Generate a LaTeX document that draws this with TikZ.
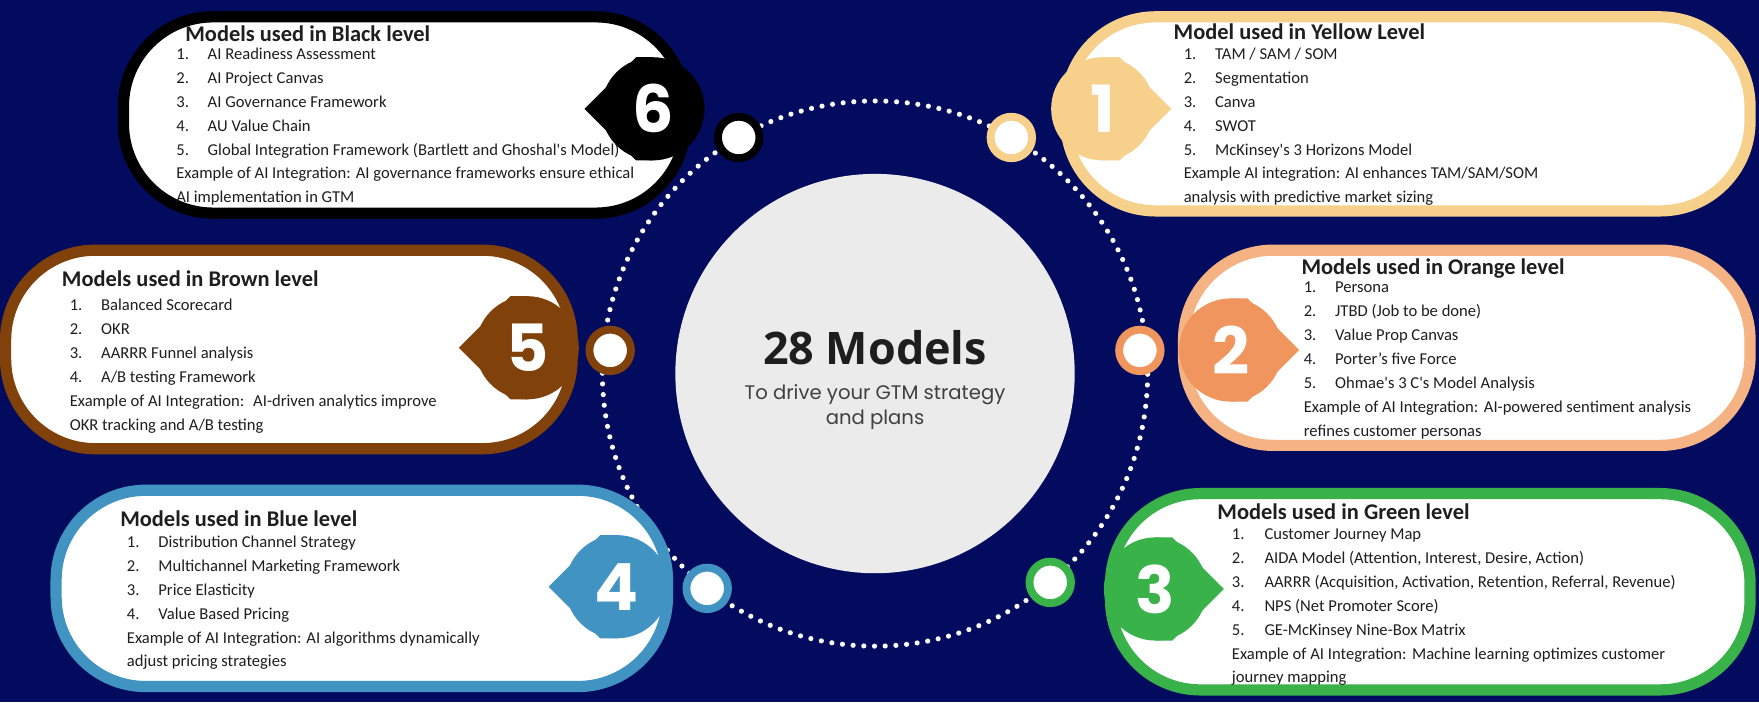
\documentclass[tikz,border=0pt]{standalone}
\usepackage{fontspec}
\setmainfont{Carlito}
\newfontfamily\bigfont{Open Sans}
\newfontfamily\roundfont{Poppins}
\usetikzlibrary{positioning,calc}

\definecolor{navy}{RGB}{2,11,94}
\definecolor{lvyellow}{RGB}{247,209,140}
\definecolor{lvorange}{RGB}{239,149,93}
\definecolor{lvorangeedge}{RGB}{245,178,130}
\definecolor{lvbrown}{RGB}{128,66,10}
\definecolor{lvblue}{RGB}{65,148,194}
\definecolor{lvgreen}{RGB}{58,178,74}
\definecolor{midgray}{RGB}{235,235,235}
\definecolor{inktext}{RGB}{30,30,30}

\tikzset{
    levelbox/.style={draw=#1, fill=white, line width=10pt, rounded corners=80pt, inner sep=0pt}, % white box with coloured rim
    badge/.style={circle, fill=#1, minimum size=92pt, inner sep=0pt, text=white,
        font=\roundfont\bfseries\fontsize{58}{58}\selectfont},
    ring/.style={circle, draw=#1, fill=white, line width=7pt, minimum size=37pt, inner sep=0pt},
    heading/.style={anchor=base west, inner sep=0pt, text=inktext, font=\bfseries\fontsize{20}{24}\selectfont},
    itemlist/.style={anchor=base west, inner sep=0pt, text=inktext, font=\fontsize{14.8}{21.3}\selectfont},
    dotring/.style={draw=white, line width=4.6pt, line cap=round, dash pattern=on 0pt off 9.54pt},
}

\begin{document}
\begin{tikzpicture}[x=1pt,y=-1pt]
    \useasboundingbox (0,0) rectangle (1568,626);
    \fill[navy] (0,0) rectangle (1568,626);

    % centre
    \node[circle, fill=midgray, minimum size=356pt, inner sep=0pt] (mid) at (780,333) {};
    \draw[dotring] (mid.center) circle (243pt);
    \node[font=\bigfont\bfseries\fontsize{40}{40}\selectfont, text=inktext] (title) at (780,310) {28 Models};
    \node[align=center, font=\roundfont\fontsize{17.5}{22}\selectfont, text=darkgray] (subtitle) at (780,363)
        {To drive your GTM strategy\\and plans};

    % level boxes
    \node[levelbox=black, minimum width=501pt, minimum height=175pt] (boxblack) at (360.5,102.5) {};
    \node[levelbox=lvyellow, minimum width=610pt, minimum height=173pt] (boxyellow) at (1255,101.5) {};
    \node[levelbox=lvbrown, minimum width=505pt, minimum height=177pt] (boxbrown) at (257.5,311.5) {};
    \node[levelbox=lvorangeedge, minimum width=505pt, minimum height=174pt] (boxorange) at (1307.5,310) {};
    \node[levelbox=lvblue, minimum width=545pt, minimum height=175pt] (boxblue) at (322.5,524.5) {};
    \node[levelbox=lvgreen, minimum width=570pt, minimum height=175pt] (boxgreen) at (1275,527.5) {};

    % badges
    \coordinate (c6) at (582,97);
    \fill[black] ($(c6)+(-61,0)$) -- ($(c6)+(-15,-46)$) -- ($(c6)+(0,-46)$) -- ($(c6)+(0,46)$) -- ($(c6)+(-15,46)$) -- cycle;
    \node[badge=black] (badge6) at (c6) {6};
    \coordinate (c1) at (983,97);
    \fill[lvyellow] ($(c1)+(61,0)$) -- ($(c1)+(15,-46)$) -- ($(c1)+(0,-46)$) -- ($(c1)+(0,46)$) -- ($(c1)+(15,46)$) -- cycle;
    \node[badge=lvyellow] (badge1) at (c1) {1};
    \coordinate (c5) at (470,310);
    \fill[lvbrown] ($(c5)+(-61,0)$) -- ($(c5)+(-15,-46)$) -- ($(c5)+(0,-46)$) -- ($(c5)+(0,46)$) -- ($(c5)+(-15,46)$) -- cycle;
    \node[badge=lvbrown] (badge5) at (c5) {5};
    \coordinate (c2) at (1097,312);
    \fill[lvorange] ($(c2)+(61,0)$) -- ($(c2)+(15,-46)$) -- ($(c2)+(0,-46)$) -- ($(c2)+(0,46)$) -- ($(c2)+(15,46)$) -- cycle;
    \node[badge=lvorange] (badge2) at (c2) {2};
    \coordinate (c4) at (550,523);
    \fill[lvblue] ($(c4)+(-61,0)$) -- ($(c4)+(-15,-46)$) -- ($(c4)+(0,-46)$) -- ($(c4)+(0,46)$) -- ($(c4)+(-15,46)$) -- cycle;
    \node[badge=lvblue] (badge4) at (c4) {4};
    \coordinate (c3) at (1030,525);
    \fill[lvgreen] ($(c3)+(61,0)$) -- ($(c3)+(15,-46)$) -- ($(c3)+(0,-46)$) -- ($(c3)+(0,46)$) -- ($(c3)+(15,46)$) -- cycle;
    \node[badge=lvgreen] (badge3) at (c3) {3};

    % rings on the dotted circle
    \node[ring=black] (ring6) at ($(mid.center)+(120:243pt)$) {};
    \node[ring=lvyellow] (ring1) at ($(mid.center)+(60:243pt)$) {};
    \node[ring=lvbrown] (ring5) at ($(mid.center)+(175:237pt)$) {};
    \node[ring=lvorange] (ring2) at ($(mid.center)+(5:237pt)$) {};
    \node[ring=lvblue] (ring4) at ($(mid.center)+(232:243pt)$) {};
    \node[ring=lvgreen] (ring3) at ($(mid.center)+(310:243pt)$) {};

    % texts
    \node[heading] (headblack) at (165,37) {Models used in Black level};
    \node[itemlist] (listblack) at (157,53) {\begin{tabular}[t]{@{}p{28pt}@{}l@{}}
        1. & AI Readiness Assessment\\
        2. & AI Project Canvas\\
        3. & AI Governance Framework\\
        4. & AU Value Chain\\
        5. & Global Integration Framework (Bartlett and Ghoshal\textquotesingle s Model)\\
        \multicolumn{2}{@{}l@{}}{Example of AI Integration: AI governance frameworks ensure ethical}\\
        \multicolumn{2}{@{}l@{}}{AI implementation in GTM}
    \end{tabular}};

    \node[heading] (headyellow) at (1046,35) {Model used in Yellow Level};
    \node[itemlist] (listyellow) at (1055,53) {\begin{tabular}[t]{@{}p{28pt}@{}l@{}}
        1. & TAM / SAM / SOM\\
        2. & Segmentation\\
        3. & Canva\\
        4. & SWOT\\
        5. & McKinsey\textquotesingle s 3 Horizons Model\\
        \multicolumn{2}{@{}l@{}}{Example AI integration: AI enhances TAM/SAM/SOM}\\
        \multicolumn{2}{@{}l@{}}{analysis with predictive market sizing}
    \end{tabular}};

    \node[heading] (headbrown) at (55,255) {Models used in Brown level};
    \node[itemlist] (listbrown) at (62,277) {\begin{tabular}[t]{@{}p{28pt}@{}l@{}}
        1. & Balanced Scorecard\\
        2. & OKR\\
        3. & AARRR Funnel analysis\\
        4. & A/B testing Framework\\
        \multicolumn{2}{@{}l@{}}{Example of AI Integration:\hspace{8pt}AI-driven analytics improve}\\
        \multicolumn{2}{@{}l@{}}{OKR tracking and A/B testing}
    \end{tabular}};

    \node[heading] (headorange) at (1160,245) {Models used in Orange level};
    \node[itemlist] (listorange) at (1162,261) {\begin{tabular}[t]{@{}p{28pt}@{}l@{}}
        1. & Persona\\
        2. & JTBD (Job to be done)\\
        3. & Value Prop Canvas\\
        4. & Porter’s five Force\\
        5. & Ohmae\textquotesingle s 3 C\textquotesingle s Model Analysis\\
        \multicolumn{2}{@{}l@{}}{Example of AI Integration:\hspace{5pt}AI-powered sentiment analysis}\\
        \multicolumn{2}{@{}l@{}}{refines customer personas}
    \end{tabular}};

    \node[heading] (headblue) at (107,469) {Models used in Blue level};
    \node[itemlist] (listblue) at (113,488) {\begin{tabular}[t]{@{}p{28pt}@{}l@{}}
        1. & Distribution Channel Strategy\\
        2. & Multichannel Marketing Framework\\
        3. & Price Elasticity\\
        4. & Value Based Pricing\\
        \multicolumn{2}{@{}l@{}}{Example of AI Integration: AI algorithms dynamically}\\
        \multicolumn{2}{@{}l@{}}{adjust pricing strategies}
    \end{tabular}};

    \node[heading] (headgreen) at (1085,463) {Models used in Green level};
    \node[itemlist] (listgreen) at (1098,481) {\begin{tabular}[t]{@{}p{29pt}@{}l@{}}
        1. & Customer Journey Map\\
        2. & AIDA Model (Attention, Interest, Desire, Action)\\
        3. & AARRR (Acquisition, Activation, Retention, Referral, Revenue)\\
        4. & NPS (Net Promoter Score)\\
        5. & GE-McKinsey Nine-Box Matrix\\
        \multicolumn{2}{@{}l@{}}{Example of AI Integration:\hspace{5pt}Machine learning optimizes customer}\\
        \multicolumn{2}{@{}l@{}}{journey mapping}
    \end{tabular}};
\end{tikzpicture}
\end{document}
